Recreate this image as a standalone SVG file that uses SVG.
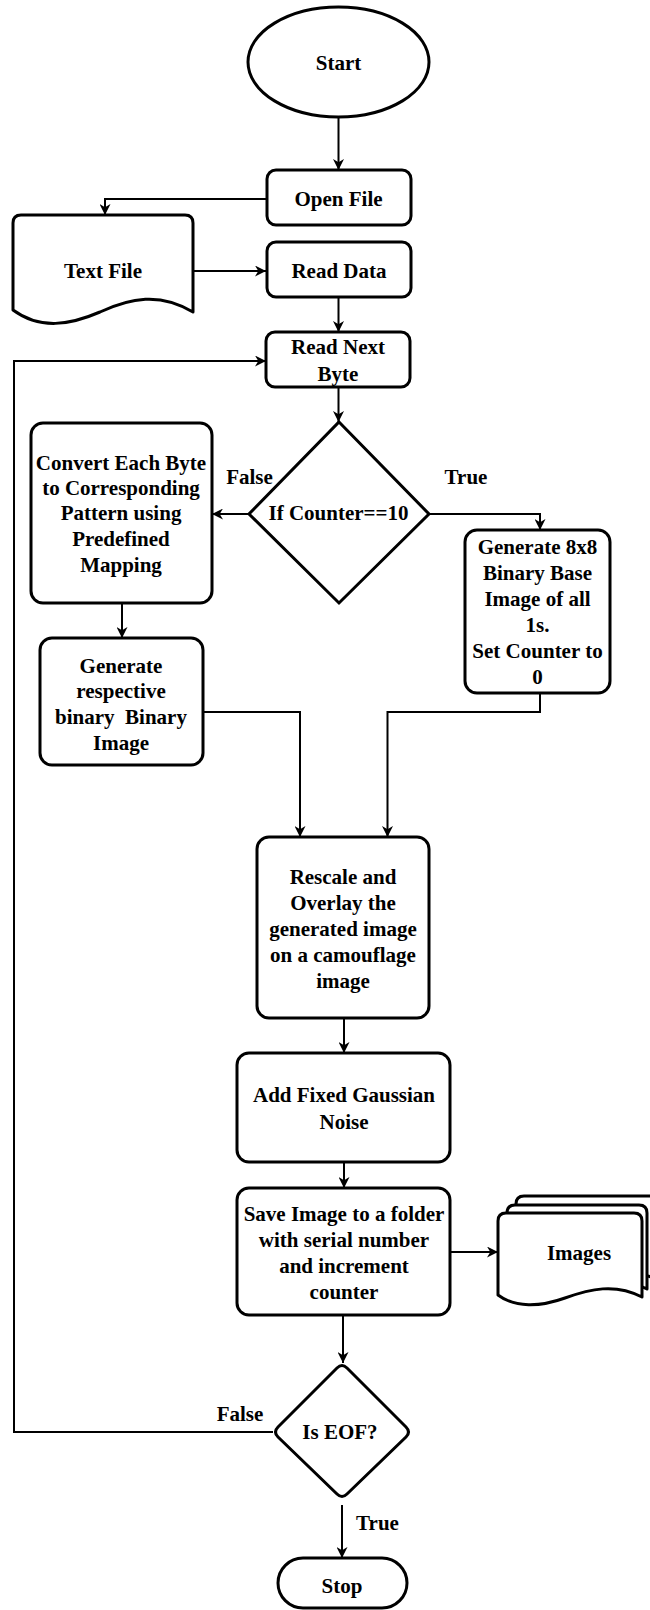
<svg xmlns="http://www.w3.org/2000/svg" width="650" height="1610" viewBox="0 0 650 1610">
  <style>
    .node { fill: #fff; stroke: #000; stroke-width: 3; stroke-linejoin: round; }
    .sharp { stroke-linejoin: miter; }
    .lbl { font-family: "Liberation Serif", "Times New Roman", serif; font-weight: bold; font-size: 21px; text-anchor: middle; fill: #000; }
    .edge { fill: none; stroke: #000; stroke-width: 2; marker-end: url(#arrow); }
  </style>
  <defs>
    <marker id="arrow" viewBox="0 0 10 10" refX="10" refY="5" markerWidth="11" markerHeight="11" markerUnits="userSpaceOnUse" orient="auto">
      <path d="M0,0 L10,5 L0,10 L3,5 Z" fill="#000"/>
    </marker>
  </defs>
  <rect width="650" height="1610" fill="#fff"/>

  <!-- connectors and their branch labels -->
  <g id="connectors">
    <path class="edge" d="M338.5,117 V170"/>
    <path class="edge" d="M267,199 H105 V215"/>
    <path class="edge" d="M193,271 H266"/>
    <path class="edge" d="M338.5,297 V332"/>
    <path class="edge" d="M338.5,387 V422"/>
    <path class="edge" d="M249,514 H212"/>
    <path class="edge" d="M429,514 H540 V530"/>
    <path class="edge" d="M122,603 V638"/>
    <path class="edge" d="M203,712 H300 V837"/>
    <path class="edge" d="M540,693 V712 H387.5 V837"/>
    <path class="edge" d="M344,1018 V1053"/>
    <path class="edge" d="M344,1162 V1188"/>
    <path class="edge" d="M450,1252 H498"/>
    <path class="edge" d="M343,1315 V1363"/>
    <path class="edge" d="M273,1432 H14 V361 H266"/>
    <path class="edge" d="M342,1505 V1558"/>
    <text class="lbl" x="249.5" y="484">False</text>
    <text class="lbl" x="466" y="484">True</text>
    <text class="lbl" x="240" y="1421">False</text>
    <text class="lbl" x="377.5" y="1530">True</text>
  </g>

  <g id="start">
    <ellipse class="node" cx="338.5" cy="62" rx="90.5" ry="55"/>
    <text class="lbl" x="338.5" y="70">Start</text>
  </g>

  <g id="open-file">
    <rect class="node" x="267" y="170" width="144" height="55" rx="9"/>
    <text class="lbl" x="338.5" y="206">Open File</text>
  </g>

  <g id="text-file">
    <path class="node" d="M13,310 V223 Q13,215 21,215 H185 Q193,215 193,223 V312 C160,292 130,298 100,312 C70,325 40,330 13,310 Z"/>
    <text class="lbl" x="103" y="278">Text File</text>
  </g>

  <g id="read-data">
    <rect class="node" x="267" y="242" width="144" height="55" rx="9"/>
    <text class="lbl" x="339" y="278">Read Data</text>
  </g>

  <g id="read-next-byte">
    <rect class="node" x="266" y="332" width="144" height="55" rx="9"/>
    <text class="lbl" x="338" y="354">Read Next</text>
    <text class="lbl" x="338" y="381">Byte</text>
  </g>

  <g id="counter-check">
    <path class="node sharp" d="M339,422 L429,514 L339,603 L249,514 Z"/>
    <text class="lbl" x="338.5" y="520">If Counter==10</text>
  </g>

  <g id="convert-byte">
    <rect class="node" x="31" y="423" width="181" height="180" rx="12"/>
    <text class="lbl" x="121" y="470">Convert Each Byte</text>
    <text class="lbl" x="121" y="495">to Corresponding</text>
    <text class="lbl" x="121" y="520">Pattern using</text>
    <text class="lbl" x="121" y="546">Predefined</text>
    <text class="lbl" x="121" y="572">Mapping</text>
  </g>

  <g id="base-image">
    <rect class="node" x="465" y="530" width="145" height="163" rx="12"/>
    <text class="lbl" x="537.5" y="554">Generate 8x8</text>
    <text class="lbl" x="537.5" y="580">Binary Base</text>
    <text class="lbl" x="537.5" y="606">Image of all</text>
    <text class="lbl" x="537.5" y="632">1s.</text>
    <text class="lbl" x="537.5" y="658">Set Counter to</text>
    <text class="lbl" x="537.5" y="684">0</text>
  </g>

  <g id="binary-image">
    <rect class="node" x="40" y="638" width="163" height="127" rx="12"/>
    <text class="lbl" x="121" y="673">Generate</text>
    <text class="lbl" x="121" y="698">respective</text>
    <text class="lbl" x="121" y="724" xml:space="preserve">binary  Binary</text>
    <text class="lbl" x="121" y="750">Image</text>
  </g>

  <g id="rescale-overlay">
    <rect class="node" x="257" y="837" width="172" height="181" rx="12"/>
    <text class="lbl" x="343" y="884">Rescale and</text>
    <text class="lbl" x="343" y="910">Overlay the</text>
    <text class="lbl" x="343" y="936">generated image</text>
    <text class="lbl" x="343" y="962">on a camouflage</text>
    <text class="lbl" x="343" y="988">image</text>
  </g>

  <g id="add-noise">
    <rect class="node" x="237" y="1053" width="213" height="109" rx="12"/>
    <text class="lbl" x="344" y="1102">Add Fixed Gaussian</text>
    <text class="lbl" x="344" y="1129">Noise</text>
  </g>

  <g id="save-image">
    <rect class="node" x="237" y="1188" width="213" height="127" rx="12"/>
    <text class="lbl" x="344" y="1221">Save Image to a folder</text>
    <text class="lbl" x="344" y="1247">with serial number</text>
    <text class="lbl" x="344" y="1273">and increment</text>
    <text class="lbl" x="344" y="1299">counter</text>
  </g>

  <!-- stacked documents: back sheets first -->
  <g id="images">
    <path class="node" d="M516,1279 V1204 Q516,1196 524,1196 H652 Q660,1196 660,1204 V1281 C633,1267 608,1273 583,1282 C558,1291 533,1292 516,1279 Z"/>
    <path class="node" d="M507,1287 V1213 Q507,1205 515,1205 H639 Q647,1205 647,1213 V1289 C620,1275 595,1281 570,1290 C545,1299 520,1300 507,1287 Z"/>
    <path class="node" d="M498,1295 V1221 Q498,1213 506,1213 H634 Q642,1213 642,1221 V1297 C615,1283 590,1289 565,1298 C540,1307 515,1308 498,1295 Z"/>
    <text class="lbl" x="579" y="1260">Images</text>
  </g>

  <g id="eof-check">
    <path class="node" d="M347,1368 L406,1427 Q411,1432 406,1437 L347,1494 Q342,1499 337,1494 L278,1437 Q273,1432 278,1427 L337,1368 Q342,1363 347,1368 Z"/>
    <text class="lbl" x="340" y="1439">Is EOF?</text>
  </g>

  <g id="stop">
    <rect class="node" x="278" y="1558" width="129" height="50" rx="25"/>
    <text class="lbl" x="342" y="1593">Stop</text>
  </g>
</svg>
